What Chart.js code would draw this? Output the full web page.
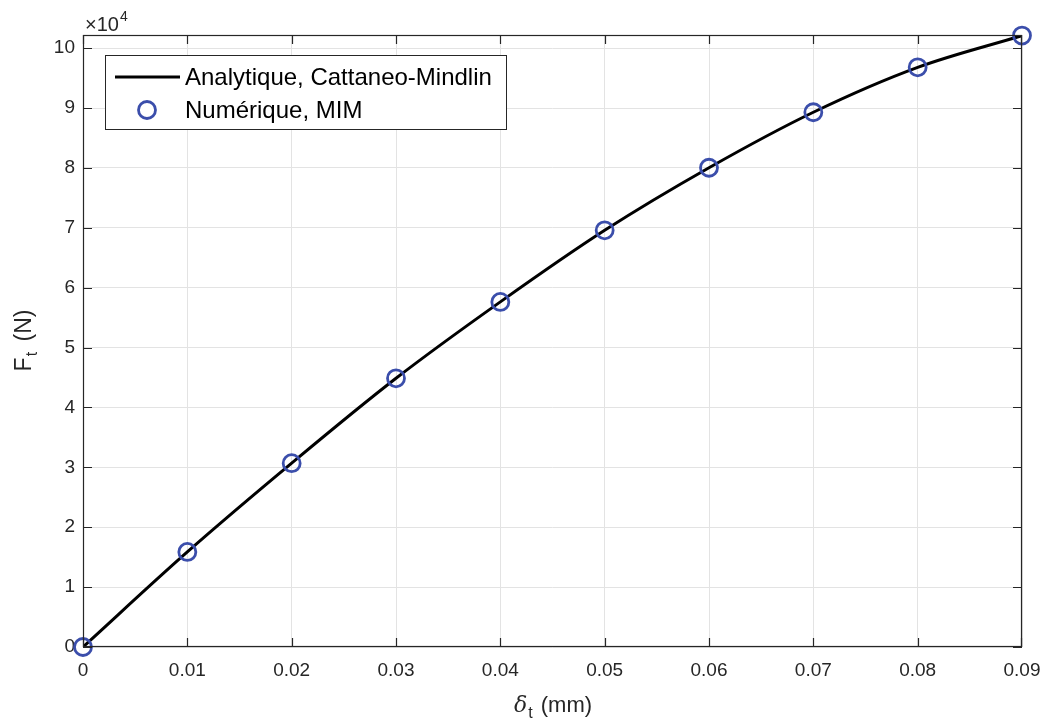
<!DOCTYPE html>
<html>
<head>
<meta charset="utf-8">
<script src="https://cdn.jsdelivr.net/npm/chart.js@4.4.0/dist/chart.umd.min.js"></script>
<style>
  html, body { margin: 0; padding: 0; background: #fff; }
  #wrap { width: 1047px; height: 720px; }
</style>
</head>
<body>
<div id="wrap"><canvas id="chart" width="1047" height="720"></canvas></div>
<script>
// 変位 δt (mm)
const deltaT = [0, 0.01, 0.02, 0.03, 0.04, 0.05, 0.06, 0.07, 0.08, 0.09];
// 解析解 Cattaneo-Mindlin (N)
const forceAnalytic = [0, 15870, 30700, 44870, 57630, 69580, 80030, 89300, 96800, 102100];
// 数値解 MIM (N)
const forceNumeric = [0, 15870, 30700, 44870, 57630, 69580, 80030, 89300, 96800, 102100];

const xTicks = [0, 0.01, 0.02, 0.03, 0.04, 0.05, 0.06, 0.07, 0.08, 0.09];
const yTicks = [0, 10000, 20000, 30000, 40000, 50000, 60000, 70000, 80000, 90000, 100000];

const legendLabels = ['Analytique, Cattaneo-Mindlin', 'Numérique, MIM'];

const FONT = '"Liberation Sans", Arial, Helvetica, sans-serif';
const AXIS_COLOR = '#262626';
const MARKER_COLOR = '#3b4eab';

const toPoints = (xs, ys) => xs.map((x, i) => ({ x: x, y: ys[i] }));

// 枠・内向き目盛・軸タイトル・凡例
const decorPlugin = {
    id: 'decor',
    afterDatasetsDraw(chart) {
        const ctx = chart.ctx;
        const a = chart.chartArea;
        const xs = chart.scales.x;
        const ys = chart.scales.y;

        ctx.save();
        // 枠
        ctx.strokeStyle = AXIS_COLOR;
        ctx.lineWidth = 1.2;
        ctx.strokeRect(a.left + 0.5, a.top + 0.5, a.right - a.left - 1, a.bottom - a.top - 1);

        // 内向き目盛
        const tl = 9;
        ctx.beginPath();
        xTicks.forEach(v => {
            const px = Math.min(Math.round(xs.getPixelForValue(v)) + 0.5, a.right - 0.5);
            ctx.moveTo(px, a.bottom); ctx.lineTo(px, a.bottom - tl);
            ctx.moveTo(px, a.top); ctx.lineTo(px, a.top + tl);
        });
        yTicks.forEach(v => {
            const py = Math.round(ys.getPixelForValue(v)) + 0.5;
            ctx.moveTo(a.left, py); ctx.lineTo(a.left + tl, py);
            ctx.moveTo(a.right, py); ctx.lineTo(a.right - tl, py);
        });
        ctx.stroke();

        // ×10^4
        ctx.fillStyle = AXIS_COLOR;
        ctx.textBaseline = 'alphabetic';
        ctx.textAlign = 'left';
        ctx.font = '20px ' + FONT;
        ctx.fillText('\u00d710', a.left + 2, 31);
        const w10 = ctx.measureText('\u00d710').width;
        ctx.font = '14px ' + FONT;
        ctx.fillText('4', a.left + 3 + w10, 21);

        // x軸タイトル δt (mm)
        const cx = (a.left + a.right) / 2;
        const by = 712;
        const deltaFont = 'italic 22px "DejaVu Serif", "Liberation Serif", serif';
        ctx.font = deltaFont;
        const wd = ctx.measureText('\u03b4').width;
        ctx.font = '16px ' + FONT;
        const wt = ctx.measureText('t').width + 2;
        ctx.font = '22px ' + FONT;
        const wm = ctx.measureText(' (mm)').width;
        let sx = cx - (wd + wt + wm) / 2;
        ctx.font = deltaFont;
        ctx.fillText('\u03b4', sx, by);
        sx += wd + 1;
        ctx.font = '16px ' + FONT;
        ctx.fillText('t', sx, by + 6);
        sx += wt;
        ctx.font = '22px ' + FONT;
        ctx.fillText(' (mm)', sx, by);

        // y軸タイトル Ft (N)
        ctx.save();
        ctx.translate(31, (a.top + a.bottom) / 2);
        ctx.rotate(-Math.PI / 2);
        ctx.font = '23px ' + FONT;
        const wf = ctx.measureText('F').width;
        const wn = ctx.measureText(' (N)').width;
        ctx.font = '16px ' + FONT;
        const wt2 = ctx.measureText('t').width + 4;
        let sy = -(wf + wt2 + wn) / 2;
        ctx.font = '23px ' + FONT;
        ctx.fillText('F', sy, 0);
        sy += wf + 1;
        ctx.font = '16px ' + FONT;
        ctx.fillText('t', sy, 6);
        sy += wt2;
        ctx.font = '23px ' + FONT;
        ctx.fillText(' (N)', sy, 0);
        ctx.restore();

        // 凡例
        const lx = 105, ly = 55, lw = 401, lh = 74;
        ctx.fillStyle = '#ffffff';
        ctx.fillRect(lx, ly, lw, lh);
        ctx.strokeStyle = AXIS_COLOR;
        ctx.lineWidth = 1;
        ctx.strokeRect(lx + 0.5, ly + 0.5, lw, lh);

        ctx.strokeStyle = '#000000';
        ctx.lineWidth = 3;
        ctx.beginPath();
        ctx.moveTo(115, 77); ctx.lineTo(180, 77);
        ctx.stroke();

        ctx.strokeStyle = MARKER_COLOR;
        ctx.lineWidth = 2.8;
        ctx.beginPath();
        ctx.arc(147, 110, 8.5, 0, Math.PI * 2);
        ctx.stroke();

        ctx.fillStyle = '#000000';
        ctx.font = '24px ' + FONT;
        ctx.textBaseline = 'middle';
        ctx.fillText(legendLabels[0], 185, 78);
        ctx.fillText(legendLabels[1], 185, 111);
        ctx.restore();
    }
};

const chart = new Chart(document.getElementById('chart'), {
    type: 'scatter',
    data: {
        datasets: [
            {
                label: legendLabels[1],
                data: toPoints(deltaT, forceNumeric),
                showLine: false,
                pointRadius: 8.5,
                pointHoverRadius: 8.5,
                pointBorderWidth: 2.8,
                pointBorderColor: MARKER_COLOR,
                pointBackgroundColor: 'rgba(0,0,0,0)',
                clip: false
            },
            {
                label: legendLabels[0],
                data: toPoints(deltaT, forceAnalytic),
                showLine: true,
                borderColor: '#000000',
                borderWidth: 3,
                pointRadius: 0,
                cubicInterpolationMode: 'monotone'
            }
        ]
    },
    options: {
        responsive: false,
        animation: false,
        layout: { padding: { top: 35, right: 25, left: 0, bottom: 0 } },
        plugins: {
            legend: { display: false },
            tooltip: { enabled: false }
        },
        scales: {
            x: {
                type: 'linear',
                min: 0,
                max: 0.09,
                afterBuildTicks: s => { s.ticks = xTicks.map(v => ({ value: v })); },
                afterFit: s => { s.height = 73; s.paddingLeft = 0; s.paddingRight = 0; },
                grid: { color: '#e3e3e3', lineWidth: 1, drawTicks: false },
                border: { display: false },
                ticks: {
                    padding: 12,
                    color: AXIS_COLOR,
                    font: { family: FONT, size: 19 },
                    maxRotation: 0,
                    callback: v => (v === 0 ? '0' : v.toFixed(2))
                }
            },
            y: {
                type: 'linear',
                min: 0,
                max: 102200,
                afterBuildTicks: s => { s.ticks = yTicks.map(v => ({ value: v })); },
                afterFit: s => { s.width = 83; s.paddingTop = 0; s.paddingBottom = 0; },
                grid: { color: '#e3e3e3', lineWidth: 1, drawTicks: false },
                border: { display: false },
                ticks: {
                    padding: 8,
                    color: AXIS_COLOR,
                    font: { family: FONT, size: 19 },
                    callback: v => String(Math.round(v / 10000))
                }
            }
        }
    },
    plugins: [decorPlugin]
});
</script>
</body>
</html>
